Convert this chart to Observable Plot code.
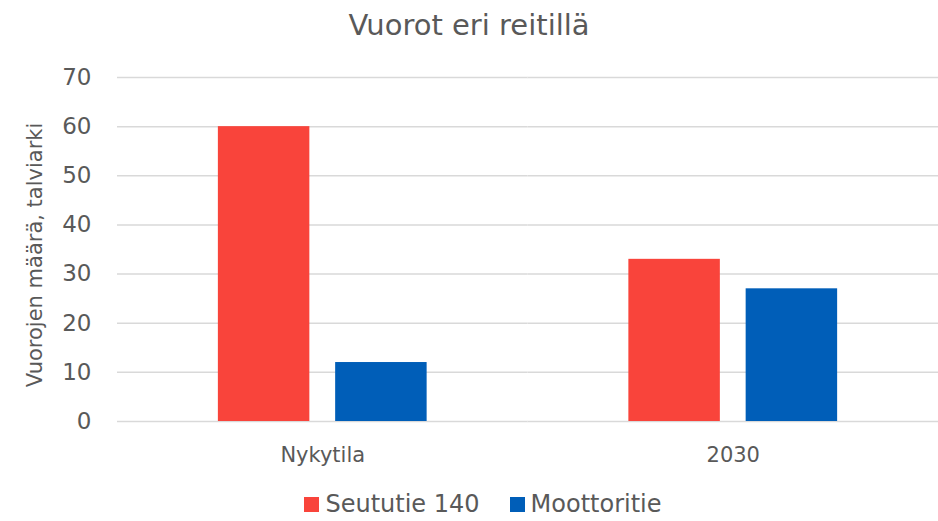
<!DOCTYPE html>
<html>
<head>
<meta charset="utf-8">
<script src="https://cdn.jsdelivr.net/npm/d3@7"></script>
<script src="https://cdn.jsdelivr.net/npm/@observablehq/plot@0.6"></script>
<style>
  html, body { margin: 0; padding: 0; background: #fff; overflow: hidden; }
  #wrap { position: relative; width: 938px; height: 521px; font-family: "DejaVu Sans", sans-serif; color: #595959; }
  #title { position: absolute; left: 0; top: 0; width: 938px; height: 50px; line-height: 50px; text-align: center; font-size: 29px; }
  #chart { position: absolute; left: 0; top: 55px; }
  #ylabel { position: absolute; left: 35px; top: 255px; transform: translate(-50%, -50%) rotate(-90deg); white-space: nowrap; font-size: 21px; }
  #legend { position: absolute; left: 14px; top: 490px; width: 938px; display: flex; justify-content: center; align-items: center; font-size: 24px; }
  .item { display: flex; align-items: center; margin: 0 15px; }
  .sw { width: 15px; height: 15px; margin-right: 6px; }
</style>
</head>
<body>
<div id="wrap">
  <div id="title">Vuorot eri reitillä</div>
  <div id="chart"></div>
  <div id="ylabel">Vuorojen määrä, talviarki</div>
  <div id="legend"></div>
</div>
<script>
const categories = ["Nykytila", "2030"];
const seriesNames = ["Seututie 140", "Moottoritie"];
const seututie140 = [60, 33];
const moottoritie = [12, 27];
const colors = ["#F9443B", "#005EB8"];
const yTicks = [0, 10, 20, 30, 40, 50, 60, 70];

const data = [];
categories.forEach((c, i) => {
  data.push({category: c, series: seriesNames[0], value: seututie140[i]});
  data.push({category: c, series: seriesNames[1], value: moottoritie[i]});
});

const chart = Plot.plot({
  width: 938,
  height: 420,
  marginLeft: 117,
  marginRight: 0,
  marginTop: 22,
  marginBottom: 54,
  style: { fontFamily: "'DejaVu Sans', sans-serif", color: "#595959", background: "transparent" },
  fx: { domain: categories, padding: 0, round: false, label: null },
  x: { domain: seriesNames, axis: null, round: false, paddingInner: 0.22, paddingOuter: 0.86 },
  y: { domain: [0, 70], ticks: yTicks, label: null },
  color: { domain: seriesNames, range: colors },
  marks: [
    Plot.gridY(yTicks, { stroke: "#d9d9d9", strokeOpacity: 1, strokeWidth: 1.5 }),
    Plot.axisY(yTicks, { tickSize: 0, tickPadding: 26, fontSize: 23, label: null }),
    Plot.axisFx({ anchor: "bottom", tickSize: 0, tickPadding: 26, fontSize: 21, label: null }),
    Plot.barY(data, { fx: "category", x: "series", y: "value", fill: "series" })
  ]
});
document.getElementById("chart").appendChild(chart);

const legend = d3.select("#legend");
seriesNames.forEach((s, i) => {
  const it = legend.append("div").attr("class", "item");
  it.append("div").attr("class", "sw").style("background", colors[i]);
  it.append("span").text(s);
});
</script>
</body>
</html>
